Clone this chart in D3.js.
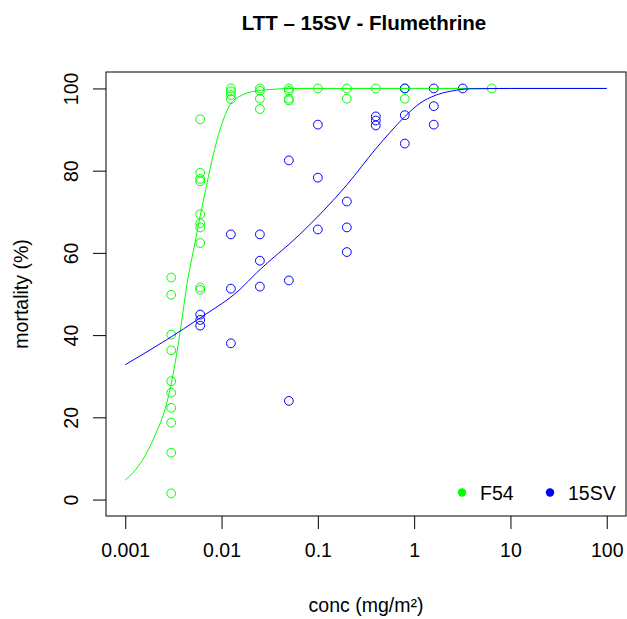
<!DOCTYPE html>
<html>
<head>
<meta charset="utf-8">
<script src="https://cdn.jsdelivr.net/npm/d3@7"></script>
<style>
  html, body { margin: 0; padding: 0; background: #fff; }
  svg text { font-family: "Liberation Sans", Arial, sans-serif; fill: #000; }
</style>
</head>
<body>
<svg id="chart" width="627" height="619"></svg>
<script>
// ---- data ----
const title = "LTT \u2013 15SV - Flumethrine";
const xLabel = "conc (mg/m\u00B2)";
const yLabel = "mortality (%)";
const seriesNames = ["F54", "15SV"];
const seriesColors = ["#00FF00", "#0000FF"];

const xTickValues = [0.001, 0.01, 0.1, 1, 10, 100];
const xTickLabels = ["0.001", "0.01", "0.1", "1", "10", "100"];
const yTickValues = [0, 20, 40, 60, 80, 100];

// F54 observations
const f54Conc = [
  0.003, 0.003, 0.003, 0.003, 0.003, 0.003, 0.003, 0.003, 0.003, 0.003,
  0.006, 0.006, 0.006, 0.006, 0.006, 0.006, 0.006, 0.006, 0.006, 0.006,
  0.0125, 0.0125, 0.0125, 0.0125,
  0.025, 0.025, 0.025, 0.025,
  0.05, 0.05, 0.05, 0.05,
  0.1,
  0.2, 0.2,
  0.4,
  0.8, 0.8,
  6.4
];
const f54Mort = [
  54, 49.8, 40.1, 36.3, 28.8, 26, 22.3, 18.7, 11.4, 1.5,
  92.5, 79.5, 78, 77.4, 69.4, 67.2, 66.2, 62.4, 51.6, 51,
  100, 99.3, 98.4, 97.4,
  100, 99.4, 97.5, 95,
  100, 99.4, 97.5, 97.1,
  100,
  100, 97.5,
  100,
  100, 97.5,
  100
];

// 15SV observations
const sv15Conc = [
  0.006, 0.006, 0.006,
  0.0125, 0.0125, 0.0125,
  0.025, 0.025, 0.025,
  0.05, 0.05, 0.05,
  0.1, 0.1, 0.1,
  0.2, 0.2, 0.2,
  0.4, 0.4, 0.4,
  0.8, 0.8, 0.8,
  1.6, 1.6, 1.6,
  3.2
];
const sv15Mort = [
  45, 43.7, 42.3,
  64.5, 51.3, 38,
  64.5, 58.1, 51.8,
  82.5, 53.3, 24,
  91.2, 78.3, 65.7,
  72.5, 66.2, 60.2,
  93.2, 92.2, 91,
  100, 93.5, 86.6,
  100, 95.7, 91.2,
  100
];

// fitted curves
const f54CurveConc = [0.001, 0.0015, 0.002, 0.0027, 0.0032, 0.0037, 0.0044, 0.0053, 0.006, 0.007, 0.0082, 0.0104, 0.0122, 0.0155, 0.023, 0.035, 0.05, 0.1, 1, 10, 100];
const f54CurveMort = [4.7, 9.5, 15.2, 23.5, 31.5, 40.6, 52.7, 62.5, 69, 76.5, 83.9, 92.3, 96, 98.1, 99.4, 99.8, 100, 100, 100, 100, 100];
const sv15CurveConc = [0.001, 0.0027, 0.006, 0.0155, 0.0232, 0.065, 0.201, 0.402, 0.561, 0.804, 1.15, 1.65, 2.36, 3.8, 10, 100];
const sv15CurveMort = [32.8, 38.9, 44.2, 51.1, 55.2, 64.5, 76.6, 85.4, 89.3, 93.2, 96.4, 98.3, 99.3, 99.9, 100, 100];

// ---- drawing ----
const svg = d3.select("#chart");
const box = { left: 106, right: 626, top: 72, bottom: 516 };

const x = d3.scaleLog()
  .domain([Math.pow(10, -3.2), Math.pow(10, 2.2)])
  .range([box.left, box.right]);
const y = d3.scaleLinear()
  .domain([-4, 104])
  .range([box.bottom, box.top]);

// title
svg.append("text")
  .attr("x", 364).attr("y", 30)
  .attr("text-anchor", "middle")
  .style("font-weight", "bold")
  .style("font-size", "20.5px")
  .text(title);

// x axis
const xAxis = d3.axisBottom(x)
  .tickValues(xTickValues)
  .tickFormat((d, i) => xTickLabels[i])
  .tickSize(13)
  .tickSizeOuter(0)
  .tickPadding(14);
const gx = svg.append("g")
  .attr("transform", `translate(0,${box.bottom})`)
  .call(xAxis);
gx.select(".domain").remove();
gx.selectAll(".tick line").attr("stroke", "#000");
gx.selectAll(".tick text")
  .style("font-size", "19.5px")
  .attr("font-family", null);

// y axis
const yAxis = d3.axisLeft(y)
  .tickValues(yTickValues)
  .tickSize(13)
  .tickSizeOuter(0);
const gy = svg.append("g")
  .attr("transform", `translate(${box.left},0)`)
  .call(yAxis);
gy.select(".domain").remove();
gy.selectAll(".tick line").attr("stroke", "#000");
gy.selectAll(".tick text").remove();
gy.selectAll(".tick").append("text")
  .attr("transform", "translate(-28,0) rotate(-90)")
  .attr("text-anchor", "middle")
  .attr("y", 0)
  .style("font-size", "19.5px")
  .attr("font-family", null)
  .text(d => d);

// axis titles
svg.append("text")
  .attr("x", (box.left + box.right) / 2).attr("y", 612)
  .attr("text-anchor", "middle")
  .style("font-size", "19.5px")
  .text(xLabel);
svg.append("text")
  .attr("transform", `translate(28,${(box.top + box.bottom) / 2}) rotate(-90)`)
  .attr("text-anchor", "middle")
  .style("font-size", "19.5px")
  .text(yLabel);

// plot box
svg.append("rect")
  .attr("x", box.left).attr("y", box.top)
  .attr("width", box.right - box.left).attr("height", box.bottom - box.top)
  .attr("fill", "none").attr("stroke", "#000").attr("stroke-width", 1);

const plot = svg.append("g");

function points(conc, mort, color) {
  plot.append("g").selectAll("circle")
    .data(conc.map((c, i) => [c, mort[i]]))
    .join("circle")
    .attr("cx", d => x(d[0]))
    .attr("cy", d => y(d[1]))
    .attr("r", 4.4)
    .attr("fill", "none")
    .attr("stroke", color)
    .attr("stroke-width", 1);
}
function curve(conc, mort, color) {
  const line = d3.line()
    .x(d => x(d[0]))
    .y(d => y(d[1]))
    .curve(d3.curveMonotoneX);
  plot.append("path")
    .datum(conc.map((c, i) => [c, mort[i]]))
    .attr("d", line)
    .attr("fill", "none")
    .attr("stroke", color)
    .attr("stroke-width", 1);
}

points(f54Conc, f54Mort, seriesColors[0]);
points(sv15Conc, sv15Mort, seriesColors[1]);
curve(f54CurveConc, f54CurveMort, seriesColors[0]);
curve(sv15CurveConc, sv15CurveMort, seriesColors[1]);

// legend
const legendX = [462, 550];
const legend = svg.append("g");
seriesNames.forEach((name, i) => {
  legend.append("circle")
    .attr("cx", legendX[i]).attr("cy", 492.5)
    .attr("r", 4.2)
    .attr("fill", seriesColors[i]);
  legend.append("text")
    .attr("x", legendX[i] + 18).attr("y", 499.5)
    .style("font-size", "19.5px")
    .text(name);
});
</script>
</body>
</html>
